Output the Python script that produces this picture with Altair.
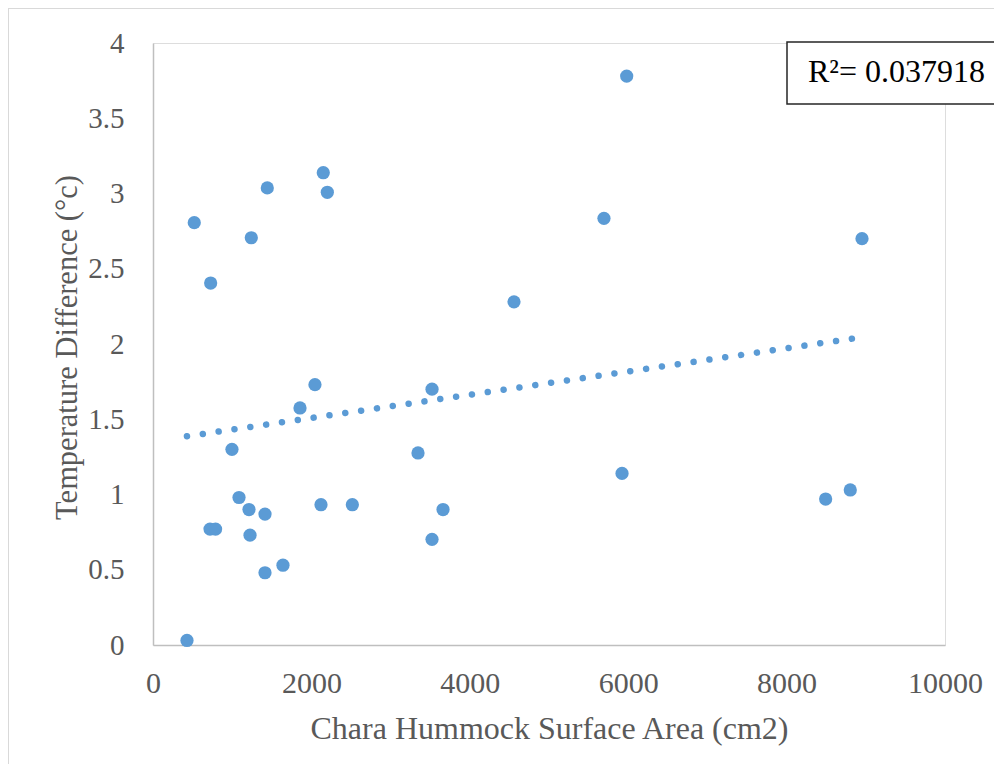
import altair as alt
import pandas as pd

area = [429, 521, 728, 997, 1086, 720, 790, 1212, 1241, 1225, 1414, 1414, 1443, 1641, 1856,
        2045, 2121, 2150, 2201, 2517, 3346, 3523, 3523, 3662, 4558, 5694, 5922, 5981, 8493, 8804, 8952]
temp = [0.03, 2.806, 2.405, 1.30, 0.98, 0.77, 0.77, 0.90, 2.706, 0.73, 0.87, 0.48, 3.037, 0.53, 1.575,
        1.73, 0.932, 3.138, 3.008, 0.932, 1.276, 1.70, 0.702, 0.90, 2.28, 2.835, 1.14, 3.78, 0.97, 1.03, 2.70]
x_ticks = [0, 2000, 4000, 6000, 8000, 10000]
y_ticks = [0, 0.5, 1, 1.5, 2, 2.5, 3, 3.5, 4]
r2_text = ["R\u00b2= 0.037918"]

df = pd.DataFrame({"x": area, "y": temp})
FONT = "Liberation Serif"
BLUE = "#5B9BD5"
W, H = 792, 602

xs = alt.Scale(domain=[0, 10000], nice=False)
ys = alt.Scale(domain=[0, 4], nice=False)

xenc = alt.X("x:Q", scale=xs, axis=alt.Axis(
    values=x_ticks, labelExpr="'' + datum.value",
    title="Chara Hummock Surface Area (cm2)", grid=False, ticks=False,
    domainColor="#BFBFBF", domainWidth=1.5, labelColor="#595959", labelFont=FONT,
    labelFontSize=30, labelPadding=23, labelFlush=False, labelBaseline="top",
    titleFont=FONT, titleFontSize=32, titleColor="#595959", titleFontWeight="normal",
    titleBaseline="alphabetic", titleY=93, labelOverlap=False))
yenc = alt.Y("y:Q", scale=ys, axis=alt.Axis(
    values=y_ticks, labelExpr="'' + datum.value",
    title="Temperature Difference (\u00b0c)", grid=False, ticks=False,
    domainColor="#BFBFBF", domainWidth=1.5, labelColor="#595959", labelFont=FONT,
    labelFontSize=29, labelPadding=29, labelFlush=False, labelOverlap=False,
    titleFont=FONT, titleFontSize=30.5, titleColor="#595959", titleFontWeight="normal",
    titleAngle=-90, titleBaseline="alphabetic", titleX=-77, titleY=H / 2 + 3, titleAlign="center"))

base = alt.Chart(df)

border = base.mark_rect(fill=None, stroke="#D9D9D9", strokeWidth=1.5, clip=False).encode(
    x=alt.value(-145), x2=alt.value(900), y=alt.value(-35), y2=alt.value(800))

points = base.mark_circle(size=175, opacity=1, color=BLUE).encode(x=xenc, y=yenc)

trend = base.transform_regression("x", "y").mark_line(
    color=BLUE, strokeWidth=6.5, strokeDash=[0.001, 16], strokeCap="round").encode(
    x=alt.X("x:Q", scale=xs), y=alt.Y("y:Q", scale=ys))

box = alt.Chart(pd.DataFrame({"t": r2_text})).mark_rect(
    fill="white", stroke="#262626", strokeWidth=1.5, clip=False).encode(
    x=alt.value(634), x2=alt.value(848), y=alt.value(-1), y2=alt.value(61))

label = alt.Chart(pd.DataFrame({"t": r2_text})).mark_text(
    font=FONT, fontSize=32, color="#000000", align="left", baseline="alphabetic").encode(
    x=alt.value(655), y=alt.value(39), text="t:N")

chart = alt.layer(border, trend, points, box, label).properties(
    width=W, height=H,
    autosize=alt.AutoSizeParams(type="none"),
    padding={"left": 145, "top": 35, "right": 49, "bottom": 119},
).configure_view(stroke=None).configure(background="white")

chart.save("out.html", embed_options={"renderer": "svg", "actions": False})
